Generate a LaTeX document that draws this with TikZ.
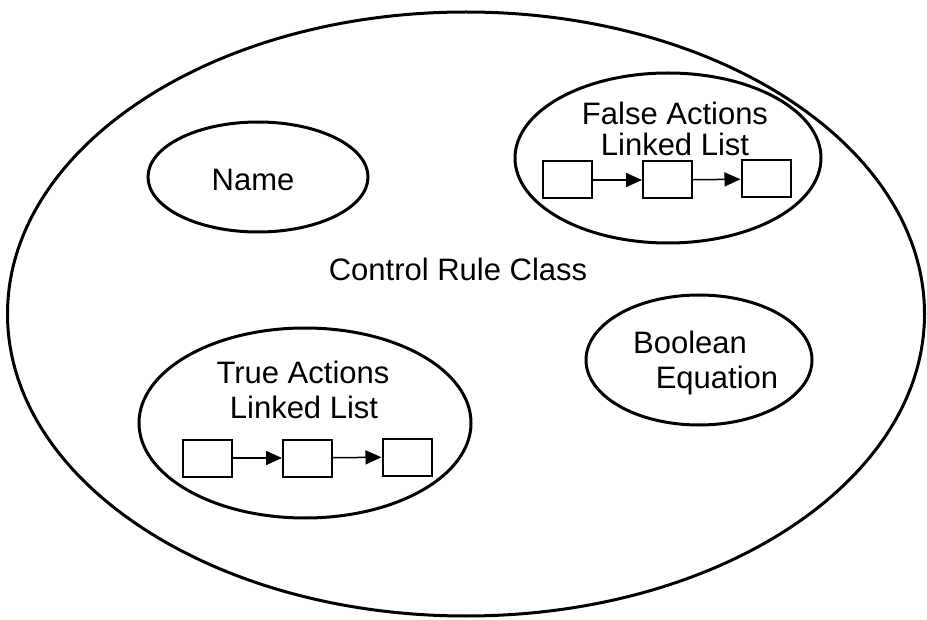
\documentclass[tikz,border=0pt]{standalone}
\usepackage{fontspec}
\setmainfont{Liberation Sans}
\usetikzlibrary{shapes.geometric,arrows.meta}
\begin{document}
\begin{tikzpicture}[x=1pt,y=-1pt,
  oval/.style={draw, ellipse, line width=3pt, inner sep=0pt, outer sep=0pt},
  lbl/.style={font=\fontsize{31}{34}\selectfont, inner sep=0pt, anchor=base},
  cell/.style={draw, line width=2pt, minimum width=49pt, minimum height=37pt, inner sep=0pt},
  link/.style={line width=1.5pt, -{Triangle[length=16pt,width=14pt]}}]
\useasboundingbox (0,0) rectangle (927,620);
% outer class
\node[oval, minimum width=917pt, minimum height=604pt] (outer) at (466,314) {};
\node[lbl] (title) at (458,281) {Control Rule Class};
% name
\node[oval, minimum width=220pt, minimum height=110pt] (name) at (258,177) {};
\node[lbl] (namet) at (253,191) {Name};
% false actions
\node[oval, minimum width=306pt, minimum height=170pt] (false) at (668,158) {};
\node[lbl] (falset1) at (675,125) {False Actions};
\node[lbl] (falset2) at (675,156) {Linked List};
\node[cell] (f1) at (567.5,180) {};
\node[cell] (f2) at (667.5,180) {};
\node[cell] (f3) at (766,179) {};
\draw[link] (f1) -- (f2);
\draw[link] (f2) -- (f3);
% boolean
\node[oval, minimum width=226pt, minimum height=130pt] (bool) at (699,360) {};
\node[lbl] (boolt1) at (690,354) {Boolean};
\node[lbl] (boolt2) at (717,389) {Equation};
% true actions
\node[oval, minimum width=332pt, minimum height=190pt] (true) at (305,423) {};
\node[lbl] (truet1) at (303,384) {True Actions};
\node[lbl] (truet2) at (304,418) {Linked List};
\node[cell] (t1) at (207.5,458) {};
\node[cell] (t2) at (307.5,458) {};
\node[cell] (t3) at (407,457) {};
\draw[link] (t1) -- (t2);
\draw[link] (t2) -- (t3);
\end{tikzpicture}
\end{document}
